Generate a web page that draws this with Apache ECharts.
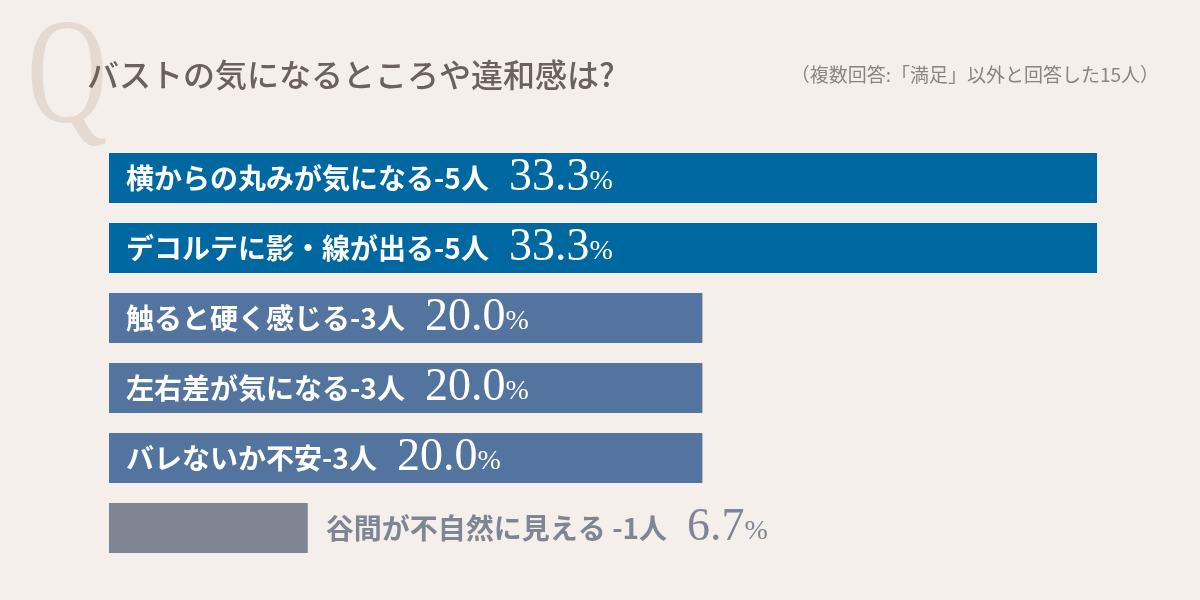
<!DOCTYPE html>
<html>
<head>
<meta charset="utf-8">
<script src="https://cdn.jsdelivr.net/npm/echarts@6/dist/echarts.min.js"></script>
<style>
html,body{margin:0;padding:0;background:#f4efeb;}
#c{width:1200px;height:600px;}
</style>
</head>
<body>
<div id="c"></div>
<script>
const categories = ['横からの丸みが気になる', 'デコルテに影・線が出る', '触ると硬く感じる', '左右差が気になる', 'バレないか不安', '谷間が不自然に見える'];
const counts = [5, 5, 3, 3, 3, 1];
const percents = [33.3, 33.3, 20.0, 20.0, 20.0, 6.7];
const barColors = ['#0068a0', '#0068a0', '#53749e', '#53749e', '#53749e', '#7f8593'];

const chart = echarts.init(document.getElementById('c'));
const jp = '"Noto Sans CJK JP", "Noto Sans", sans-serif';
const serif = '"Liberation Serif", "DejaVu Serif", serif';

function richFor(color) {
  return {
    t: { fontFamily: jp, fontSize: 28, fontWeight: 'bold', color: color, lineHeight: 50, verticalAlign: 'middle' },
    n: { fontFamily: serif, fontSize: 46, color: color, padding: [0, 0, 0, 20], lineHeight: 50, verticalAlign: 'middle' },
    p: { fontFamily: serif, fontSize: 28, color: color, lineHeight: 50, verticalAlign: 'middle', padding: [8, 0, 0, 0] }
  };
}

const data = percents.map((v, i) => {
  const last = i === percents.length - 1;
  const item = { value: v, itemStyle: { color: barColors[i] } };
  if (last) {
    item.label = { position: 'right', distance: 18, rich: richFor('#7f8593') };
  }
  return item;
});

chart.setOption({
  backgroundColor: '#f4efeb',
  animation: false,
  graphic: [
    { type: 'text', left: 27, top: 8, scaleX: 0.74, style: { text: 'Q', fontFamily: serif, fontSize: 150, fill: '#e5dad2' } },
    { type: 'text', left: 87, top: 59, style: { text: 'バストの気になるところや違和感は?', fontFamily: jp, fontSize: 32, fontWeight: 500, fill: '#6b615e' } },
    { type: 'text', right: 41, top: 65, style: { text: '（複数回答:「満足」以外と回答した15人）', fontFamily: jp, fontSize: 19, fill: '#8b8581' } }
  ],
  grid: { left: 109, right: 103, top: 143, bottom: 37, containLabel: false },
  xAxis: { type: 'value', min: 0, max: 33.3, show: false },
  yAxis: { type: 'category', data: categories, inverse: true, show: false },
  series: [{
    type: 'bar',
    data: data,
    barWidth: 50,
    label: {
      show: true,
      position: 'insideLeft',
      distance: 17,
      formatter: function (p) {
        const i = p.dataIndex;
        const sep = i === percents.length - 1 ? ' -' : '-';
        return '{t|' + categories[i] + sep + counts[i] + '人}{n|' + percents[i].toFixed(1) + '}{p|%}';
      },
      rich: richFor('#ffffff')
    }
  }]
});
</script>
</body>
</html>
